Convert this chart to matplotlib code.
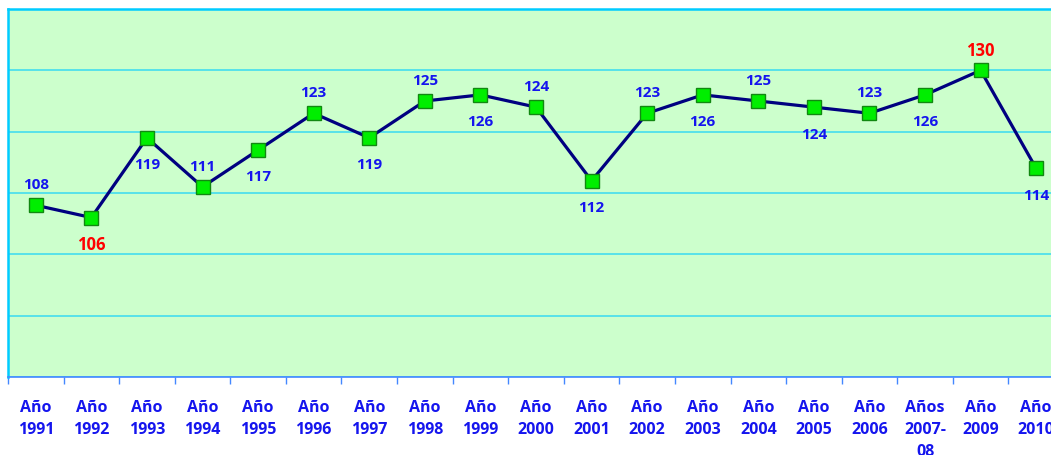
import matplotlib.pyplot as plt

anios = ["Año\n1991", "Año\n1992", "Año\n1993", "Año\n1994", "Año\n1995", "Año\n1996",
         "Año\n1997", "Año\n1998", "Año\n1999", "Año\n2000", "Año\n2001", "Año\n2002",
         "Año\n2003", "Año\n2004", "Año\n2005", "Año\n2006", "Años\n2007-\n08",
         "Año\n2009", "Año\n2010"]
valores = [108, 106, 119, 111, 117, 123, 119, 125, 126, 124, 112, 123, 126, 125, 124,
           123, 126, 130, 114]
# donde va la etiqueta: 1 arriba, -1 abajo
posicion = [1, -1, -1, 1, -1, 1, -1, 1, -1, 1, -1, 1, -1, 1, -1, 1, -1, 1, -1]

fig = plt.figure(figsize=(10.51, 4.56), dpi=100)
# el grafico original esta recortado a la derecha
ax = fig.add_axes([8 / 1051, 1 - 378 / 456, 1056 / 1051, 368 / 456])
ax.set_facecolor('#CCFFCC')

x = list(range(len(valores)))
ax.plot(x, valores, color='#000080', lw=2.3, zorder=3,
        marker='s', ms=9.5, mfc='#00EE00', mec='#118811', mew=1)

vmin, vmax = min(valores), max(valores)
for i, v in enumerate(valores):
    extremo = v in (vmin, vmax)
    color = 'red' if extremo else '#1515EE'
    dy = 15 if posicion[i] > 0 else -19
    ax.annotate(str(v), (i, v), xytext=(0, dy), textcoords='offset points',
                ha='center', va='center', color=color,
                fontsize=12 if extremo else 11,
                fontweight='bold', family='Open Sans')

ax.set_xlim(-0.5, len(valores) - 0.5)
ax.set_ylim(80, 140)
ax.set_yticks(range(80, 141, 10))
ax.set_yticklabels([])
ax.tick_params(axis='y', length=0)
ax.grid(axis='y', color='#44DDEE', lw=1.2)
ax.set_axisbelow(True)

ax.set_xticks([i + 0.5 for i in range(-1, len(valores))], minor=False)
ax.set_xticklabels([])
ax.set_xticks(x, minor=True)
ax.set_xticklabels(anios, minor=True, color='#1515EE', fontsize=11.5,
                   fontweight='bold', family='Open Sans', linespacing=1.5)
ax.tick_params(axis='x', which='major', length=5, color='#4488FF', width=1)
ax.tick_params(axis='x', which='minor', length=0, pad=16)

for s in ['left', 'top', 'right']:
    ax.spines[s].set_color('#00CCFF')
    ax.spines[s].set_linewidth(1.8)
ax.spines['bottom'].set_color('#4488FF')
ax.spines['bottom'].set_linewidth(1.2)

fig.savefig('out.png', dpi=100)
